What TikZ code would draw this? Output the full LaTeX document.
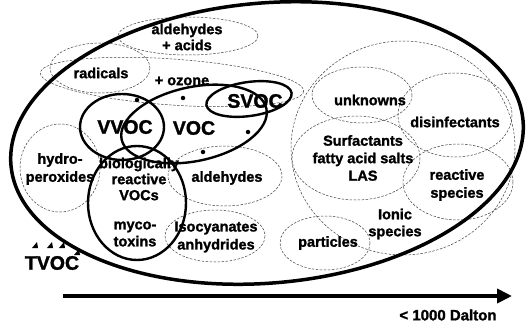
\documentclass[tikz,border=0pt]{standalone}
\usepackage{fontspec}
\setmainfont{Liberation Sans}[BoldFeatures={FakeBold=1.5}]
\usetikzlibrary{arrows.meta}
\begin{document}
\begin{tikzpicture}[x=1pt,y=-1pt,
  lbl/.style={font=\fontsize{14.5}{16}\selectfont\bfseries, align=center, inner sep=0pt},
  biglbl/.style={font=\fontsize{19.5}{20}\selectfont\bfseries, inner sep=0pt},
  thinline/.style={draw=black!75, line width=0.5pt, dash pattern=on 2.5pt off 1.5pt},
  thickline/.style={draw=black, line width=2.4pt},
  outerline/.style={draw=black, line width=3.5pt},
  dotmark/.style={circle, fill=black, inner sep=0pt, minimum size=4.5pt},
  tipmark/.style={fill=black}]
\useasboundingbox (0,0) rectangle (526,326);

% thin dashed groups
\draw[thinline] (188,36) ellipse [x radius=70, y radius=19];
\draw[thinline] (100,68) ellipse [x radius=50, y radius=25];
\draw[thinline, rotate around={-4:(172,82)}] (172,82) ellipse [x radius=132, y radius=23];
\draw[thinline] (60,168) ellipse [x radius=40, y radius=44];
\draw[thinline] (225,176) ellipse [x radius=57, y radius=30];
\draw[thinline] (215,236) ellipse [x radius=50, y radius=26];
\draw[thinline] (362,95) ellipse [x radius=50, y radius=28];
\draw[thinline] (455,115) ellipse [x radius=57, y radius=42];
\draw[thinline] (356,158) ellipse [x radius=64, y radius=42];
\draw[thinline] (458,182) ellipse [x radius=55, y radius=38];
\draw[thinline] (403,148) ellipse [x radius=112, y radius=107];
\draw[thinline] (325,243) ellipse [x radius=45, y radius=27];

% thick groups
\draw[outerline, rotate around={5:(267,143)}] (267,143) ellipse [x radius=257, y radius=140];
\draw[thickline] (122,127) ellipse [x radius=42, y radius=33];
\draw[thickline, rotate around={12:(194,124)}] (194,124) ellipse [x radius=74, y radius=37];
\draw[thickline, rotate around={8:(249,99)}] (249,99) ellipse [x radius=43, y radius=17];
\draw[thickline] (137,203) ellipse [x radius=49, y radius=57];

% dots
\node[dotmark] (d1) at (137,100) {};
\node[dotmark] (d2) at (183,98) {};
\node[dotmark] (d3) at (248,132) {};
\node[dotmark] (d4) at (203,152) {};

% labels
\node[lbl] (acids) at (187,37) {aldehydes\\+ acids};
\node[lbl] (radicals) at (101,73) {radicals};
\node[lbl] (ozone) at (182,81) {+ ozone};
\node[lbl, font=\fontsize{14.5}{18}\selectfont\bfseries] (hydro) at (60,169) {hydro-\\peroxides};
\node[lbl] (bio) at (139,179) {biologically\\reactive\\VOCs};
\node[lbl, font=\fontsize{14.5}{17}\selectfont\bfseries] (myco) at (135,234) {myco-\\toxins};
\node[lbl] (ald) at (227,178) {aldehydes};
\node[lbl, font=\fontsize{14.5}{18}\selectfont\bfseries] (iso) at (216,237) {Isocyanates\\anhydrides};
\node[lbl] (unk) at (370,100) {unknowns};
\node[lbl] (dis) at (455,122) {disinfectants};
\node[lbl, font=\fontsize{14.5}{17.5}\selectfont\bfseries] (surf) at (363,158) {Surfactants\\fatty acid salts\\LAS};
\node[lbl, font=\fontsize{14.5}{18}\selectfont\bfseries] (react) at (457,185) {reactive\\species};
\node[lbl, font=\fontsize{14.5}{17}\selectfont\bfseries] (ionic) at (395,224) {Ionic\\species};
\node[lbl] (part) at (328,243) {particles};
\node[biglbl] (vvoc) at (125,127) {VVOC};
\node[biglbl] (voc) at (194,128) {VOC};
\node[biglbl] (svoc) at (255,101) {SVOC};
\node[biglbl] (tvoc) at (52,263) {TVOC};
\node[lbl, font=\fontsize{15}{16}\selectfont\bfseries] (dalton) at (448,315) {< 1000 Dalton};

% small arrow tips near TVOC
\fill[tipmark] (32,248) -- (38,248) -- (37,242) -- cycle;
\fill[tipmark] (47,248) -- (53,248) -- (52,242) -- cycle;
\fill[tipmark] (59,248) -- (65,248) -- (64,242) -- cycle;
\fill[tipmark] (74,255) -- (80,255) -- (79,249) -- cycle;

% axis arrow
\coordinate (axs) at (63,296);
\coordinate (axe) at (512,296);
\draw[line width=4.5pt, -{Triangle[length=15pt,width=14pt]}] (axs) -- (axe);
\end{tikzpicture}
\end{document}
